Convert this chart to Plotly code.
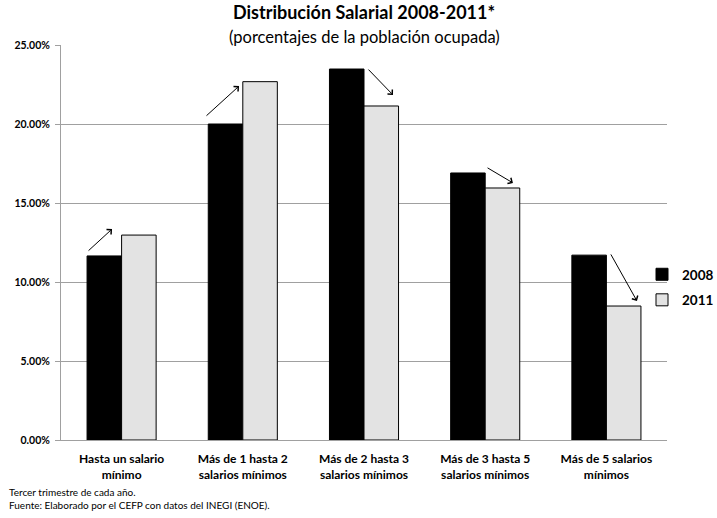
import plotly.graph_objects as go

categories = ["Hasta un salario<br>mínimo", "Más de 1 hasta 2<br>salarios mínimos",
              "Más de 2 hasta 3<br>salarios mínimos", "Más de 3 hasta 5<br>salarios mínimos",
              "Más de 5 salarios<br>mínimos"]
v2008 = [11.65, 20.0, 23.48, 16.9, 11.7]
v2011 = [12.97, 22.68, 21.14, 15.95, 8.48]
y_ticks = [0, 5, 10, 15, 20, 25]

# arrow (tail -> head) in data coords
arrow_tail_x = [-0.285, 0.688, 2.025, 3.007, 4.03]
arrow_tail_y = [11.9, 20.44, 23.54, 17.28, 11.84]
arrow_head_x = [-0.079, 0.969, 2.239, 3.229, 4.252]
arrow_head_y = [13.35, 22.4, 21.84, 16.27, 8.80]

FONT = "Lato, Calibri, sans-serif"

fig = go.Figure()
fig.add_trace(go.Bar(x=categories, y=v2008, name="<b>2008</b>", legendgroup="a",
                     marker=dict(color="black", line=dict(color="black", width=1))))
fig.add_trace(go.Bar(x=categories, y=v2011, name="<b>2011</b>", legendgroup="b",
                     marker=dict(color="#e3e3e3", line=dict(color="black", width=1))))

for tx, ty, hx, hy in zip(arrow_tail_x, arrow_tail_y, arrow_head_x, arrow_head_y):
    fig.add_annotation(x=hx, y=hy, ax=tx, ay=ty, xref="x", yref="y", axref="x", ayref="y",
                       text="", showarrow=True, arrowhead=4, arrowsize=1.3, arrowwidth=1, arrowcolor="black")

fig.add_annotation(text="<b>Distribución Salarial 2008-2011*</b>", xref="paper", yref="paper",
                   x=0.5, y=1, yshift=20, showarrow=False, font=dict(size=18, color="black", family=FONT),
                   xanchor="center", yanchor="bottom")
fig.add_annotation(text="(porcentajes de la población ocupada)", xref="paper", yref="paper",
                   x=0.5, y=1, yshift=-4, showarrow=False, font=dict(size=16.5, color="black", family=FONT),
                   xanchor="center", yanchor="bottom")
fig.add_annotation(text="Tercer trimestre de cada año.<br>Fuente: Elaborado por el CEFP con datos del INEGI (ENOE).",
                   xref="paper", yref="paper", x=-54/606, y=0, yshift=-44, showarrow=False, align="left",
                   font=dict(size=10, color="black", family=FONT), xanchor="left", yanchor="top")

fig.update_layout(
    width=717, height=518,
    margin=dict(l=61, r=50, t=45, b=78, autoexpand=False),
    plot_bgcolor="white", paper_bgcolor="white",
    barmode="group", bargap=0.43, bargroupgap=0,
    showlegend=True,
    legend=dict(xref="container", yref="container", x=642/717, y=1 - 287.5/518, xanchor="left", yanchor="middle",
                font=dict(size=13.5, color="black", family=FONT),
                itemwidth=30, tracegroupgap=5, bgcolor="rgba(0,0,0,0)"),
    font=dict(family=FONT, color="black"),
    xaxis=dict(showline=True, linecolor="#a0a0a0", tickfont=dict(size=12, color="black", family=FONT),
               ticks="", tickprefix="<b>", ticksuffix="</b>", automargin=False, ticklabelstandoff=8),
    yaxis=dict(range=[0, 25], tickvals=y_ticks, ticktext=[f"<b>{t:.2f}%</b>" for t in y_ticks],
               showgrid=True, gridcolor="#a0a0a0", showline=True, linecolor="#a0a0a0",
               ticks="outside", ticklen=5, tickcolor="#a0a0a0", automargin=False, ticklabelstandoff=3,
               tickfont=dict(size=10.5, color="black", family=FONT), zeroline=False),
)
fig.write_html("out.html", config={"displayModeBar": False},
               post_script="document.body.style.margin='0';document.body.style.overflow='hidden';")
